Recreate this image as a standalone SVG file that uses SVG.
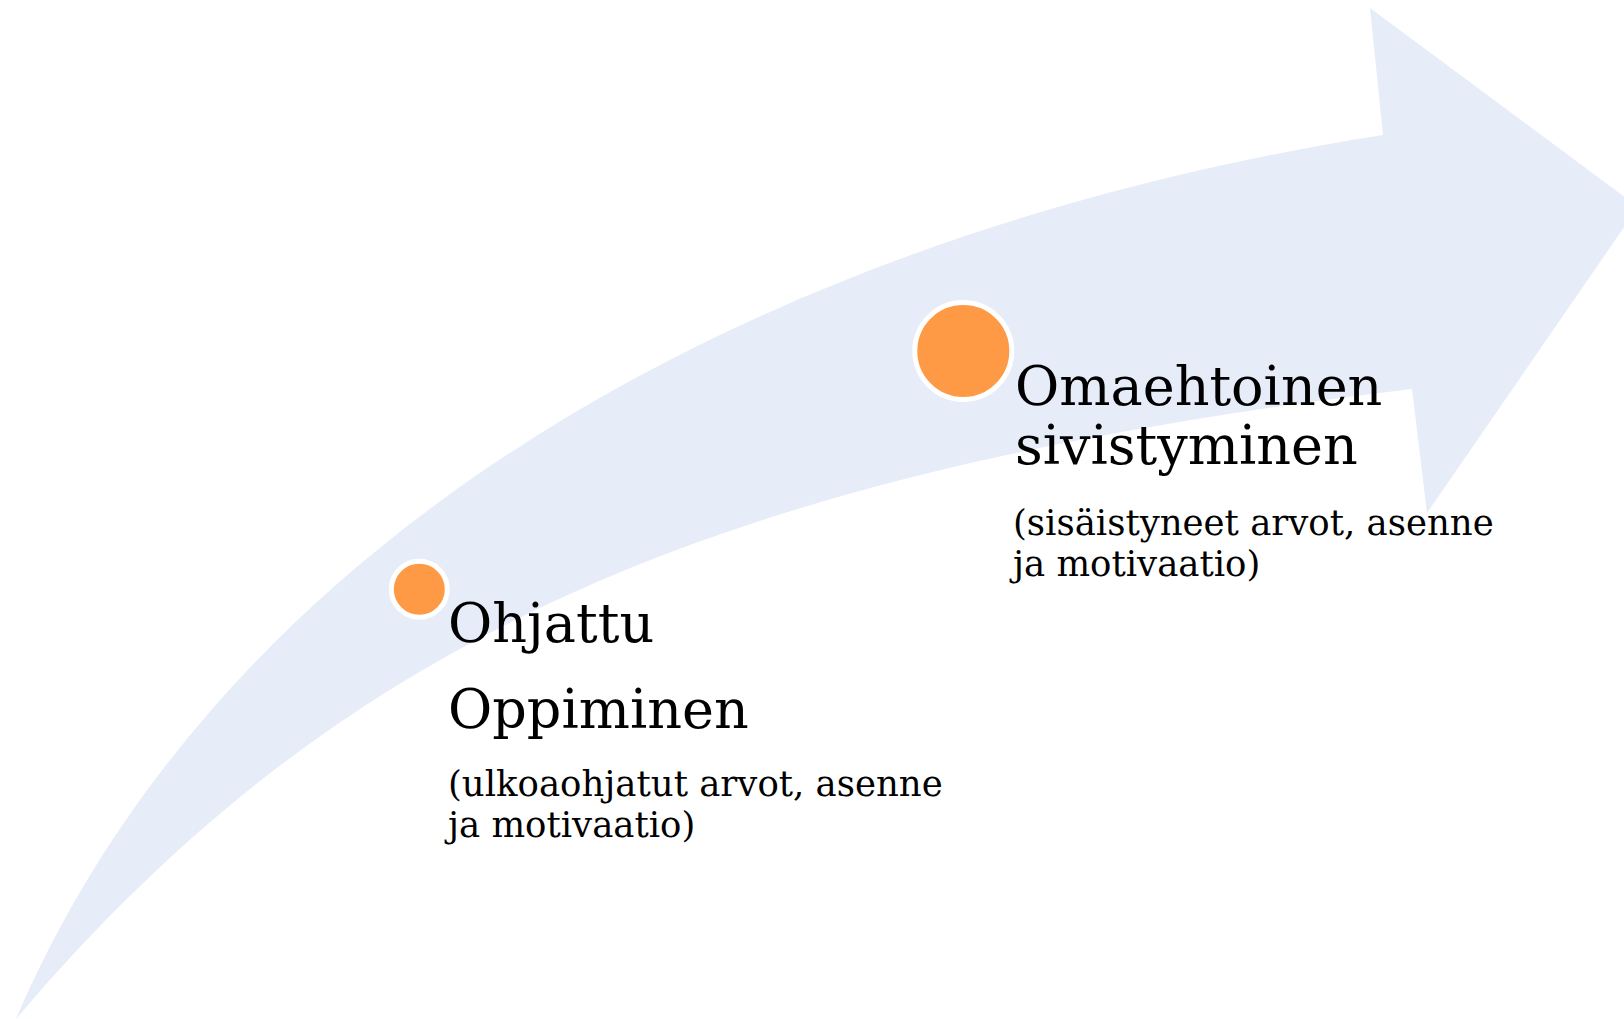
<svg xmlns="http://www.w3.org/2000/svg" width="1624" height="1019" viewBox="0 0 1624 1019">
  <style>
    .band { fill: #E6ECF8; stroke: none; }
    .dot { fill: #FE9A46; stroke: #FFFFFF; stroke-width: 5; }
    .title { font-family: "DejaVu Serif", "Liberation Serif", serif; font-size: 54px; fill: #000000; }
    .sub { font-family: "DejaVu Serif", "Liberation Serif", serif; font-size: 35.5px; fill: #000000; }
  </style>
  <rect x="0" y="0" width="1624" height="1019" fill="#FFFFFF"/>
  <g id="connectors">
    <path id="arrow" class="band" d="M 16,1019
      C 232.7,513.5 790,228 1383,135
      L 1370,8 L 1638,207 L 1427,513 L 1412,389
      C 712,473 339.5,638 16,1019 Z"/>
  </g>
  <g id="node-ohjattu">
    <circle class="dot" cx="419.3" cy="589.3" r="28"/>
    <text class="title" x="448" y="642">Ohjattu</text>
    <text class="title" x="448" y="728">Oppiminen</text>
    <text class="sub" x="448" y="796">(ulkoaohjatut arvot, asenne</text>
    <text class="sub" x="448" y="837">ja motivaatio)</text>
  </g>
  <g id="node-omaehtoinen">
    <circle class="dot" cx="963.3" cy="351" r="48.5"/>
    <text class="title" x="1015" y="405">Omaehtoinen</text>
    <text class="title" x="1015" y="464">sivistyminen</text>
    <text class="sub" x="1013" y="535">(sisäistyneet arvot, asenne</text>
    <text class="sub" x="1013" y="576">ja motivaatio)</text>
  </g>
</svg>
